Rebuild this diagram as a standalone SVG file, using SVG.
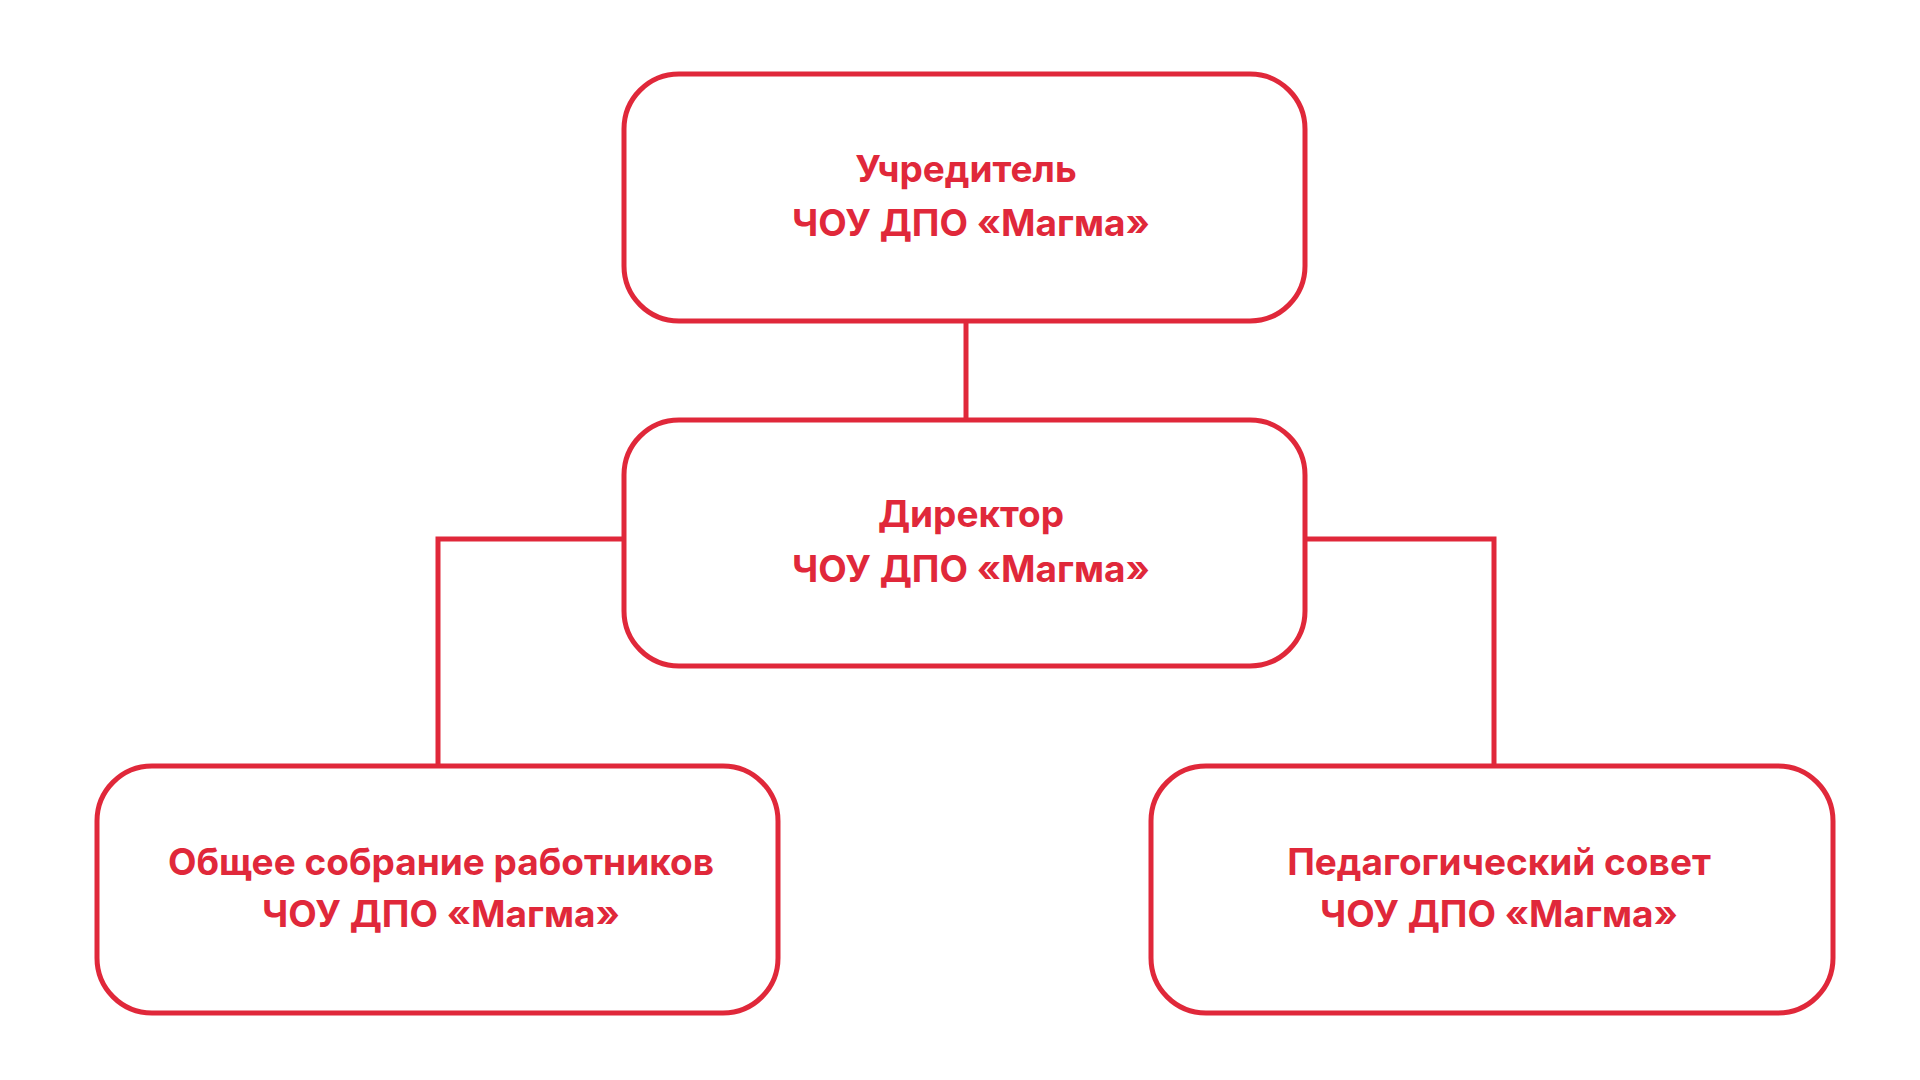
<svg xmlns="http://www.w3.org/2000/svg" width="1920" height="1080" viewBox="0 0 1920 1080">
<style>
.b{fill:#fff;stroke:#e0283a;stroke-width:5}
.c{fill:none;stroke:#e0283a;stroke-width:5}
.t{fill:#e0283a;font-family:Inter,"Liberation Sans",sans-serif;font-weight:700;font-size:37px;text-anchor:middle}
</style>
<rect width="1920" height="1080" fill="#fff"/>
<g id="connectors">
<path class="c" d="M966 321V420"/>
<path class="c" d="M624 539H438V766"/>
<path class="c" d="M1305 539H1494V766"/>
</g>
<g id="n1"><rect class="b" x="624" y="74" width="681" height="247" rx="55"/>
<text class="t" x="966" y="182">Учредитель</text><text class="t" x="971" y="236">ЧОУ ДПО «Магма»</text></g>
<g id="n2"><rect class="b" x="624" y="420" width="681" height="246" rx="55"/>
<text class="t" x="971" y="527">Директор</text><text class="t" x="971" y="582">ЧОУ ДПО «Магма»</text></g>
<g id="n3"><rect class="b" x="97" y="766" width="681" height="247" rx="55"/>
<text class="t" x="441" y="875">Общее собрание работников</text><text class="t" x="441" y="927">ЧОУ ДПО «Магма»</text></g>
<g id="n4"><rect class="b" x="1151" y="766" width="682" height="247" rx="55"/>
<text class="t" x="1499" y="875">Педагогический совет</text><text class="t" x="1499" y="927">ЧОУ ДПО «Магма»</text></g>
</svg>
